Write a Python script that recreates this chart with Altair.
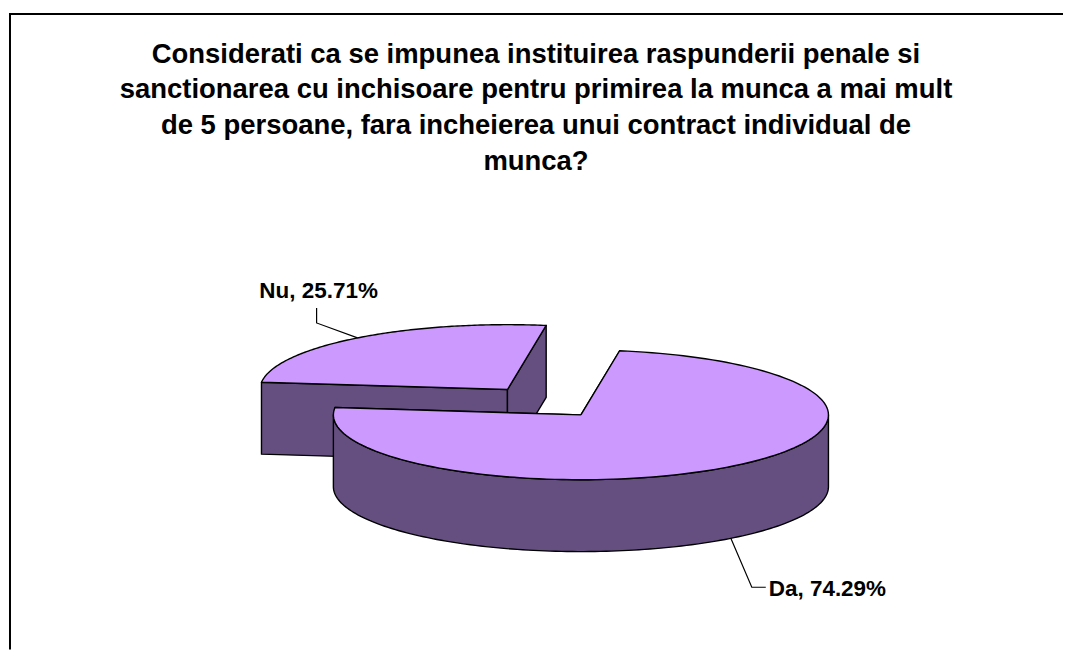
import altair as alt
import pandas as pd

# ---------------- data ----------------
categories = ["Da", "Nu"]
percents = [74.29, 25.71]
title_lines = [
    "Considerati ca se impunea instituirea raspunderii penale si",
    "sanctionarea cu inchisoare pentru primirea la munca a mai mult",
    "de 5 persoane, fara incheierea unui contract individual de",
    "munca?",
]

# ---------------- geometry / style ----------------
W, H = 1056, 642          # plot area (page coords start at 8,8)
OX, OY = 8, 8
CX, CY = 581, 415         # centre of the pie's top face
RX, RY = 248, 65          # ellipse radii of the top face
DEPTH = 72                # thickness of the 3D pie
START = 9                 # start angle (deg, clockwise from 12 o'clock)
N = 140                   # points per arc
EXPLODE = {"Nu": 0.49}
TOP = "#CC99FF"
SIDE = "#654F80"
FONT = "Liberation Sans"
# leader lines: (dx1, dy1, dx2, dy2) from anchor on slice edge
LEADER = {"Nu": (-41, -15, 0, -15), "Da": (21, 49, 14, 0)}

df = pd.DataFrame({"category": categories, "value": percents,
                   "idx": list(range(len(categories)))})
tdf = pd.DataFrame({"line": title_lines, "i": list(range(len(title_lines)))})


def by_cat(d, k, default=0):
    e = str(default)
    for c, v in d.items():
        e = f"(datum.category == '{c}' ? {v[k] if isinstance(v, tuple) else v} : {e})"
    return e


xs = alt.Scale(domain=[OX, OX + W], nice=False, zero=False)
ys = alt.Scale(domain=[OY, OY + H], nice=False, zero=False, reverse=True)
X = alt.X("px:Q", scale=xs, axis=None)
Y = alt.Y("py:Q", scale=ys, axis=None)

base = (
    alt.Chart(df)
    .transform_window(cum="sum(value)", sort=[alt.SortField("idx")], frame=[None, 0])
    .transform_joinaggregate(total="sum(value)")
    .transform_calculate(
        sa=f"{START} + 360*(datum.cum - datum.value)/datum.total",
        ea=f"{START} + 360*datum.cum/datum.total",
    )
    .transform_calculate(
        mid="(datum.sa + datum.ea)/2",
        ex=by_cat(EXPLODE, 0),
    )
    .transform_calculate(
        ccx=f"{CX} + {RX}*datum.ex*sin(datum.mid*PI/180)",
        ccy=f"{CY} - {RY}*datum.ex*cos(datum.mid*PI/180)",
    )
)


def faces(cat):
    return (
        base.transform_filter(f"datum.category == '{cat}'")
        .transform_calculate(fs="[0, 1]")
        .transform_flatten(["fs"], as_=["f"])
        .transform_calculate(ks="sequence(0, 5)")
        .transform_flatten(["ks"], as_=["k"])
        .transform_calculate(
            a="(datum.f == 0 ? datum.sa : datum.ea)*PI/180",
            ed="datum.k == 1 || datum.k == 2",
            dn="datum.k == 2 || datum.k == 3",
        )
        .transform_calculate(
            px=f"datum.ed ? datum.ccx + {RX}*sin(datum.a) : datum.ccx",
            py=f"(datum.ed ? datum.ccy - {RY}*cos(datum.a) : datum.ccy) + (datum.dn ? {DEPTH} : 0)",
            grp="datum.category + '-' + datum.f",
        )
        .mark_line(fill=SIDE, stroke="black", strokeWidth=1.4, strokeJoin="round")
        .encode(x=X, y=Y, order=alt.Order("k:Q"), detail="grp:N")
    )


def curve(cat):
    return (
        base.transform_filter(f"datum.category == '{cat}'")
        .transform_calculate(lo="max(datum.sa, 90)", hi="min(datum.ea, 270)")
        .transform_filter("datum.lo < datum.hi")
        .transform_calculate(ks=f"sequence(0, {2 * N + 1})")
        .transform_flatten(["ks"], as_=["k"])
        .transform_calculate(
            istop=f"datum.k < {N} || datum.k == {2 * N}",
            j=f"datum.k < {N} ? datum.k : (datum.k == {2 * N} ? 0 : {2 * N - 1} - datum.k)",
        )
        .transform_calculate(t=f"(datum.lo + (datum.hi - datum.lo)*datum.j/({N}-1))*PI/180")
        .transform_calculate(
            px=f"datum.ccx + {RX}*sin(datum.t)",
            py=f"datum.ccy - {RY}*cos(datum.t) + (datum.istop ? 0 : {DEPTH})",
        )
        .mark_line(fill=SIDE, stroke="black", strokeWidth=1.4, strokeJoin="round")
        .encode(x=X, y=Y, order=alt.Order("k:Q"))
    )


def top(cat):
    return (
        base.transform_filter(f"datum.category == '{cat}'")
        .transform_calculate(ks=f"sequence(0, {N + 2})")
        .transform_flatten(["ks"], as_=["k"])
        .transform_calculate(
            t=f"(datum.sa + (datum.ea - datum.sa)*(datum.k - 1)/({N}-1))*PI/180",
            edge=f"datum.k > 0 && datum.k < {N + 1}",
        )
        .transform_calculate(
            px=f"datum.edge ? datum.ccx + {RX}*sin(datum.t) : datum.ccx",
            py=f"datum.edge ? datum.ccy - {RY}*cos(datum.t) : datum.ccy",
        )
        .mark_line(fill=TOP, stroke="black", strokeWidth=1.4, strokeJoin="round")
        .encode(x=X, y=Y, order=alt.Order("k:Q"))
    )


anch = base.transform_calculate(
    front="cos(datum.mid*PI/180) < 0",
).transform_calculate(
    ax=f"datum.ccx + {RX}*sin(datum.mid*PI/180)",
    ay=f"datum.ccy - {RY}*cos(datum.mid*PI/180) + (datum.front ? {DEPTH} : 0)",
).transform_calculate(
    e1x="datum.ax + " + by_cat(LEADER, 0),
    e1y="datum.ay + " + by_cat(LEADER, 1),
).transform_calculate(
    e2x="datum.e1x + " + by_cat(LEADER, 2),
    e2y="datum.e1y + " + by_cat(LEADER, 3),
    lbl="datum.category + ', ' + format(datum.value, '.2f') + '%'",
)

leaders = (
    anch.transform_calculate(ks="sequence(0, 3)")
    .transform_flatten(["ks"], as_=["k"])
    .transform_calculate(
        px="datum.k == 0 ? datum.ax : (datum.k == 1 ? datum.e1x : datum.e2x)",
        py="datum.k == 0 ? datum.ay : (datum.k == 1 ? datum.e1y : datum.e2y)",
    )
    .mark_line(stroke="black", strokeWidth=1.2)
    .encode(x=X, y=Y, order=alt.Order("k:Q"), detail="category:N")
)


def label(cat, dx, dy, align, baseline):
    return (
        anch.transform_filter(f"datum.category == '{cat}'")
        .transform_calculate(px=f"datum.e2x + {dx}", py=f"datum.e2y + {dy}")
        .mark_text(font=FONT, fontSize=22.5, fontWeight="bold", color="black",
                   align=align, baseline=baseline)
        .encode(x=X, y=Y, text="lbl:N")
    )


title = (
    alt.Chart(tdf)
    .transform_calculate(px="536", py="62 + 36*datum.i")
    .mark_text(font=FONT, fontSize=27.5, fontWeight="bold", color="black",
               align="center", baseline="alphabetic")
    .encode(x=X, y=Y, text="line:N")
)

one = pd.DataFrame({"z": [0]})
border_top = alt.Chart(one).mark_rule(color="black", strokeWidth=2).encode(
    x=alt.value(0), x2=alt.value(W), y=alt.value(5.5))
border_left = alt.Chart(one).mark_rule(color="black", strokeWidth=2).encode(
    x=alt.value(1), y=alt.value(4.5), y2=alt.value(H))

chart = alt.layer(
    faces("Nu"), curve("Nu"), top("Nu"),
    faces("Da"), curve("Da"), top("Da"),
    leaders,
    label("Nu", 2, -10, "center", "alphabetic"),
    label("Da", 3, 8.5, "left", "alphabetic"),
    title, border_top, border_left,
).properties(width=W, height=H, padding=0, background="white").configure_view(stroke=None)

chart.save("out.html", embed_options={"renderer": "svg", "actions": False})
